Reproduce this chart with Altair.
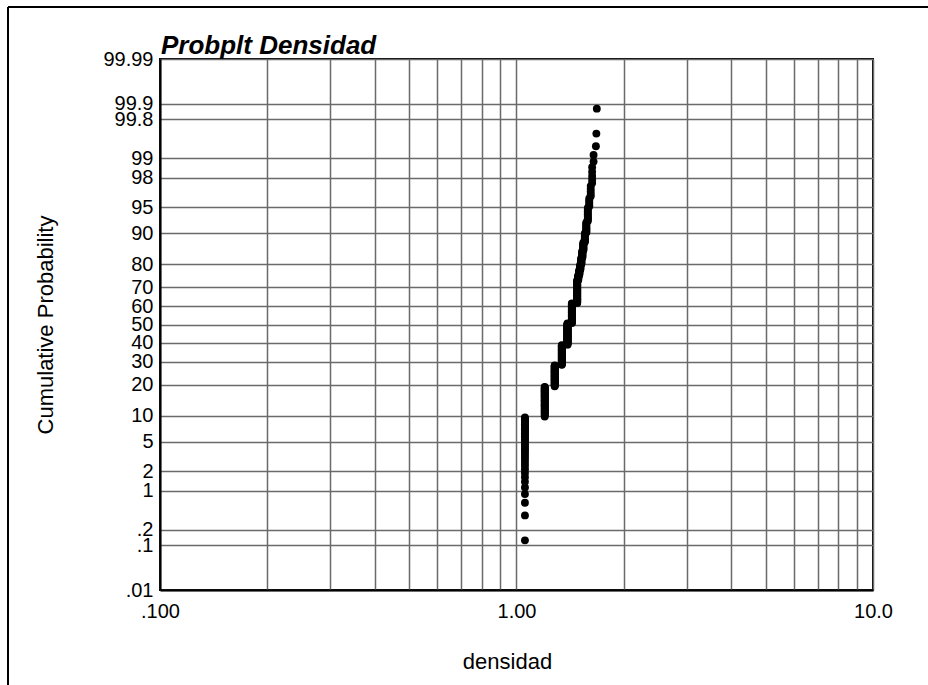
import altair as alt
import pandas as pd
from statistics import NormalDist

# Distinct density values (read from the staircase of points) and how many points sit at each
densidad_valores = [1.056, 1.20, 1.28, 1.34, 1.39, 1.43, 1.48, 1.49, 1.50, 1.51,
                    1.52, 1.53, 1.54, 1.555, 1.57, 1.585, 1.60, 1.615, 1.63, 1.645,
                    1.67, 1.675, 1.68]
conteos = [39, 38, 37, 41, 48, 44, 46, 9, 9, 9,
           10, 10, 10, 10, 10, 10, 5, 5, 5, 2,
           1, 1, 1]

# Axis tick values
x_ticks = [0.1, 0.2, 0.3, 0.4, 0.5, 0.6, 0.7, 0.8, 0.9,
           1, 2, 3, 4, 5, 6, 7, 8, 9, 10]
prob_ticks = [0.01, 0.1, 0.2, 1, 2, 5, 10, 20, 30, 40, 50, 60, 70, 80, 90,
              95, 98, 99, 99.8, 99.9, 99.99]

nd = NormalDist()
valores = [v for v, c in zip(densidad_valores, conteos) for _ in range(c)]
valores.sort()
n = len(valores)
df = pd.DataFrame({
    "densidad": valores,
    "z": [nd.inv_cdf((i + 0.5) / n) for i in range(n)],
})
z_ticks = [nd.inv_cdf(p / 100) for p in prob_ticks]
z_dom = [nd.inv_cdf(0.0001), nd.inv_cdf(0.9999)]

FONT = "Liberation Sans"

x_label_expr = ("datum.value == 0.1 ? '.100' : datum.value == 1 ? '1.00' : "
                "datum.value == 10 ? '10.0' : ''")
y_label_expr = ("replace(toString(round(cumulativeNormal(datum.value) * 10000) / 100), '0.', '.')")

points = alt.Chart(df).mark_circle(size=62, color="black", opacity=1).encode(
    x=alt.X("densidad:Q",
            scale=alt.Scale(type="log", domain=[0.1, 10], nice=False),
            axis=alt.Axis(values=x_ticks, labelExpr=x_label_expr, title="densidad",
                          labelOverlap=False, labelFlush=False, labelBound=False,
                          labelPadding=11, titlePadding=30, titleX=347)),
    y=alt.Y("z:Q",
            scale=alt.Scale(domain=z_dom, nice=False, zero=False),
            axis=alt.Axis(values=z_ticks, labelExpr=y_label_expr,
                          title="Cumulative Probability",
                          labelOverlap=False, labelFlush=False, labelBound=False,
                          labelPadding=7, titlePadding=45)),
)

frame_df = pd.DataFrame({"a": [0]})
frame_top = alt.Chart(frame_df).mark_rule(color="black", strokeWidth=2).encode(
    x=alt.value(-152), x2=alt.value(800), y=alt.value(-52))
frame_left = alt.Chart(frame_df).mark_rule(color="black", strokeWidth=2).encode(
    x=alt.value(-152), y=alt.value(-52), y2=alt.value(700))

chart = alt.layer(frame_top, frame_left, points).properties(
    width=713, height=531,
    autosize=alt.AutoSizeParams(type="none"),
    padding={"left": 160, "top": 59, "right": 55, "bottom": 95},
    title=alt.TitleParams(text="Probplt Densidad", anchor="start", frame="group",
                          font=FONT, fontSize=26, fontStyle="italic",
                          fontWeight="bold", color="black", offset=0, dy=53, dx=1),
).configure(
    background="white"
).configure_view(
    stroke="black", strokeWidth=2
).configure_axis(
    labelFont=FONT, labelFontSize=20, labelColor="black",
    titleFont=FONT, titleFontSize=22, titleFontWeight="normal", titleColor="black",
    grid=True, gridColor="#6a6a6a", gridWidth=1.5, gridOpacity=1,
    ticks=False, domainColor="black", domainWidth=2,
)

chart.save("out.html", embed_options={"renderer": "svg", "actions": False})
